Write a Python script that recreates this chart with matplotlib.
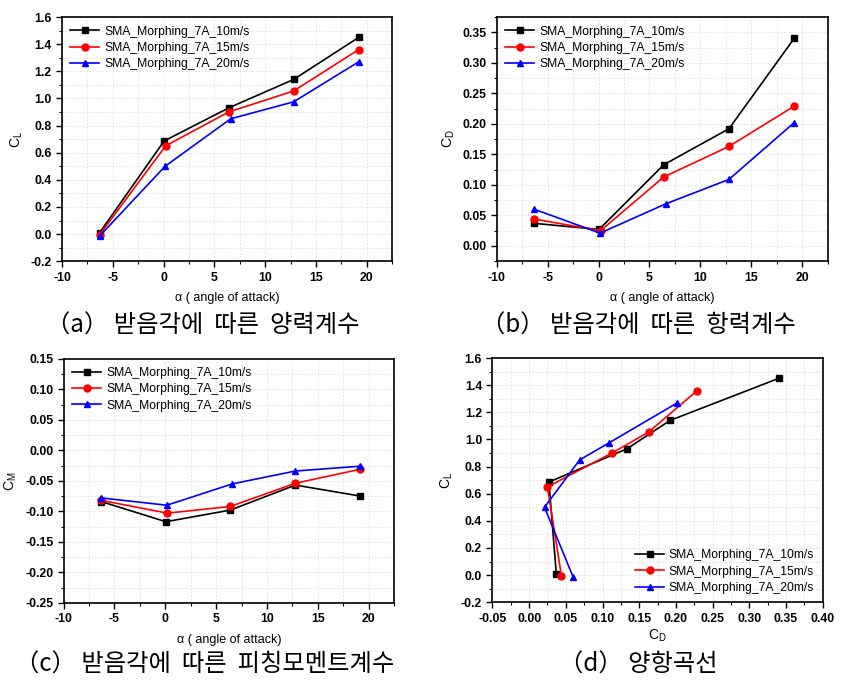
import matplotlib.pyplot as plt
from matplotlib.ticker import MultipleLocator, AutoMinorLocator

plt.rcParams["font.family"] = ["Liberation Sans", "DejaVu Sans"]

labels = ["SMA_Morphing_7A_10m/s", "SMA_Morphing_7A_15m/s", "SMA_Morphing_7A_20m/s"]
colors = ["black", "red", "blue"]
markers = ["s", "o", "^"]

alpha_10 = [-6.3, 0.05, 6.4, 12.8, 19.2]
alpha_15 = [-6.3, 0.2, 6.4, 12.8, 19.2]
alpha_20 = [-6.3, 0.15, 6.6, 12.8, 19.2]

cl_10 = [0.01, 0.686, 0.93, 1.14, 1.45]
cl_15 = [-0.005, 0.65, 0.90, 1.055, 1.36]
cl_20 = [-0.015, 0.50, 0.85, 0.975, 1.27]

cd_10 = [0.037, 0.027, 0.133, 0.192, 0.340]
cd_15 = [0.044, 0.025, 0.113, 0.163, 0.229]
cd_20 = [0.060, 0.021, 0.069, 0.109, 0.202]

cm_10 = [-0.084, -0.117, -0.098, -0.057, -0.075]
cm_15 = [-0.082, -0.103, -0.092, -0.054, -0.031]
cm_20 = [-0.078, -0.090, -0.055, -0.034, -0.026]

alphas = [alpha_10, alpha_15, alpha_20]
cls = [cl_10, cl_15, cl_20]
cds = [cd_10, cd_15, cd_20]
cms = [cm_10, cm_15, cm_20]

fig = plt.figure(figsize=(8.49, 6.82), dpi=100)
ax_a = fig.add_axes([0.073, 0.617, 0.389, 0.358])
ax_b = fig.add_axes([0.585, 0.617, 0.390, 0.358])
ax_c = fig.add_axes([0.075, 0.116, 0.389, 0.358])
ax_d = fig.add_axes([0.580, 0.117, 0.389, 0.358])


def style(ax, xlim, xmajor, ylim, ymajor, xfmt, yfmt):
    ax.set_xlim(*xlim)
    ax.set_ylim(*ylim)
    ax.xaxis.set_major_locator(MultipleLocator(xmajor))
    ax.yaxis.set_major_locator(MultipleLocator(ymajor))
    ax.xaxis.set_minor_locator(AutoMinorLocator(2))
    ax.yaxis.set_minor_locator(AutoMinorLocator(2))
    ax.xaxis.set_major_formatter(xfmt)
    ax.yaxis.set_major_formatter(yfmt)
    ax.tick_params(which="major", direction="out", length=4, width=1, labelsize=8.8)
    ax.tick_params(which="minor", direction="out", length=2.5, width=0.8)
    for lab in ax.get_xticklabels() + ax.get_yticklabels():
        lab.set_fontweight("bold")
    ax.grid(which="both", color="#dedede", linestyle=(0, (2, 2)), linewidth=0.6)
    ax.set_axisbelow(True)
    for sp in ax.spines.values():
        sp.set_linewidth(1.2)


def fmt(n):
    return lambda v, pos: f"{v:.{n}f}"


for xs, ys, c, m, lab in zip(alphas, cls, colors, markers, labels):
    ax_a.plot(xs, ys, color=c, marker=m, markersize=5, linewidth=1.2, label=lab)
for xs, ys, c, m, lab in zip(alphas, cds, colors, markers, labels):
    ax_b.plot(xs, ys, color=c, marker=m, markersize=5, linewidth=1.2, label=lab)
for xs, ys, c, m, lab in zip(alphas, cms, colors, markers, labels):
    ax_c.plot(xs, ys, color=c, marker=m, markersize=5, linewidth=1.2, label=lab)
for xs, ys, c, m, lab in zip(cds, cls, colors, markers, labels):
    ax_d.plot(xs, ys, color=c, marker=m, markersize=5, linewidth=1.2, label=lab)

style(ax_a, (-10, 22.5), 5, (-0.2, 1.6), 0.2, fmt(0), fmt(1))
style(ax_b, (-10, 22.5), 5, (-0.025, 0.375), 0.05, fmt(0), fmt(2))
style(ax_c, (-10, 22.5), 5, (-0.25, 0.15), 0.05, fmt(0), fmt(2))
style(ax_d, (-0.05, 0.40), 0.05, (-0.2, 1.6), 0.2, fmt(2), fmt(1))

for ax in (ax_a, ax_b, ax_c):
    ax.set_xlabel("α ( angle of attack)", fontsize=9, labelpad=6)
ax_a.set_ylabel("C$_\\mathregular{L}$", fontsize=10)
ax_b.set_ylabel("C$_\\mathregular{D}$", fontsize=10)
ax_c.set_ylabel("C$_\\mathregular{M}$", fontsize=10)
ax_d.set_ylabel("C$_\\mathregular{L}$", fontsize=10)
ax_d.set_xlabel("C$_\\mathregular{D}$", fontsize=10, labelpad=2)

leg_kw = dict(fontsize=8.7, frameon=False, handlelength=2.4, labelspacing=0.35,
              borderaxespad=0.3, handletextpad=0.4)
ax_a.legend(loc="upper left", **leg_kw)
ax_b.legend(loc="upper left", **leg_kw)
ax_c.legend(loc="upper left", **leg_kw)
ax_d.legend(loc="lower right", **leg_kw)

cap_font = ["Noto Sans CJK KR", "DejaVu Sans"]
cap_kw = dict(ha="center", va="center", fontsize=17.5, family=cap_font)
fig.text(203 / 849, 1 - 326 / 682, "（a） 받음각에  따른  양력계수", **cap_kw)
fig.text(638 / 849, 1 - 326 / 682, "（b） 받음각에  따른  항력계수", **cap_kw)
fig.text(205 / 849, 1 - 665 / 682, "（c） 받음각에  따른  피칭모멘트계수", **cap_kw)
fig.text(638 / 849, 1 - 665 / 682, "（d） 양항곡선", **cap_kw)

fig.savefig("out.png", dpi=100)
